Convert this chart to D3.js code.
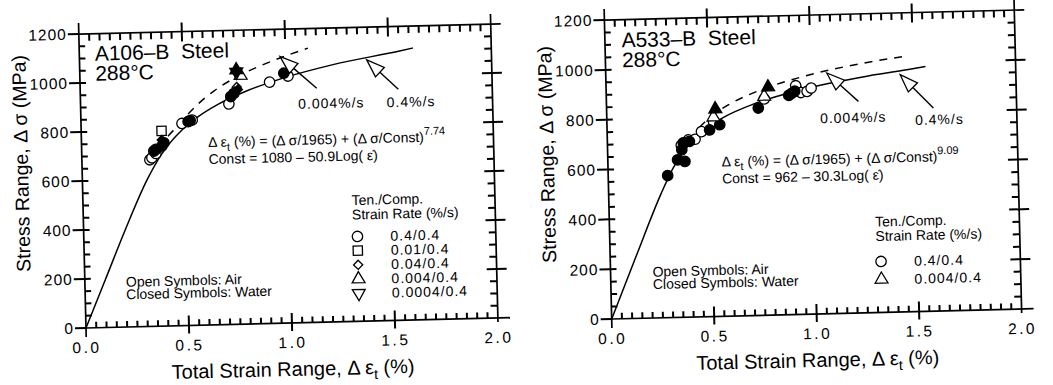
<!DOCTYPE html>
<html>
<head>
<meta charset="utf-8">
<script src="https://cdn.jsdelivr.net/npm/d3@7"></script>
<style>
  body { margin: 0; background: #fff; }
  svg { display: block; font-family: "Liberation Sans", Arial, sans-serif; }
</style>
</head>
<body>
<div id="chart"></div>
<script>
// ---- data (strain %, stress MPa) ----
var xTicks = [0, 0.5, 1.0, 1.5, 2.0];
var yTicks = [0, 200, 400, 600, 800, 1000, 1200];

// A106-B fitted curves
var a106Solid  = [[0,0],[0.102,200],[0.204,400],[0.315,600],[0.386,700],[0.433,750],[0.492,800],[0.568,850],[0.669,900],[0.804,950],[0.986,1000],[1.23,1050],[1.56,1100],[1.62,1110]];
var a106Dashed = [[0.37,730],[0.45,800],[0.56,895],[0.65,955],[0.75,1005],[0.885,1055],[1.0,1090],[1.11,1120]];
// A106-B test points
var a106CircleAir     = [[0.33,680],[0.34,688],[0.36,705],[0.49,825],[0.54,838],[0.72,900],[0.92,985],[1.01,1008]];
var a106CircleWater   = [[0.35,715],[0.36,722],[0.39,735],[0.40,748],[0.52,832],[0.53,836],[0.73,930],[0.745,942],[0.99,1020]];
var a106SquareAir     = [[0.39,797]];
var a106DiamondAir    = [[0.76,968]];
var a106DiamondWater  = [[0.39,760],[0.75,950],[0.765,958]];
var a106TriangleAir   = [[0.78,1015]];
var a106TriangleWater = [[0.76,1038]];
var a106InvTriWater   = [[0.76,1030]];
var a106Rates   = ['0.4/0.4', '0.01/0.4', '0.04/0.4', '0.004/0.4', '0.0004/0.4'];
var a106Symbols = ['circle', 'square', 'diamond', 'triangle', 'itriangle'];

// A533-B fitted curves
var a533Solid  = [[0,0],[0.127,250],[0.257,500],[0.318,600],[0.406,700],[0.475,750],[0.574,800],[0.722,850],[0.945,900],[1.28,950],[1.504,975],[1.56,982]];
var a533Dashed = [[0.45,760],[0.504,800],[0.60,850],[0.739,900],[0.943,950],[1.243,1000],[1.48,1027]];
// A533-B test points
var a533CircleAir     = [[0.36,690],[0.395,711],[0.428,713],[0.46,743],[0.52,782],[0.77,868],[0.93,902],[0.925,918],[0.95,890],[0.98,894],[1.0,907]];
var a533CircleWater   = [[0.29,570],[0.34,632],[0.376,625],[0.362,672],[0.37,700],[0.40,705],[0.50,749],[0.55,769],[0.74,832],[0.89,880],[0.905,888],[0.92,896]];
var a533TriangleAir   = [[0.52,800],[0.77,878]];
var a533TriangleWater = [[0.53,832],[0.79,915]];
var a533Rates   = ['0.4/0.4', '0.004/0.4'];
var a533Symbols = ['circle', 'triangle'];

var width = 1053, height = 385;
var svg = d3.select('#chart').append('svg')
    .attr('width', width)
    .attr('height', height);
svg.append('rect').attr('width', width).attr('height', height).attr('fill', '#fff');

var symbolType = {
    circle: d3.symbolCircle,
    square: d3.symbolSquare,
    diamond: d3.symbolSquare,   // turned 45deg below
    triangle: d3.symbolTriangle,
    itriangle: d3.symbolTriangle
};
var symbolSize = { circle: 85, square: 85, diamond: 42, triangle: 72, itriangle: 72 };
var symbolTurn = { circle: 0, square: 0, diamond: 45, triangle: 0, itriangle: 180 };

function addSymbol(g, kind, px, py, filled) {
    g.append('path')
        .attr('d', d3.symbol().type(symbolType[kind]).size(symbolSize[kind])())
        .attr('transform', 'translate(' + px + ',' + py + ') rotate(' + symbolTurn[kind] + ')')
        .attr('fill', filled ? '#000' : '#fff')
        .attr('stroke', '#000')
        .attr('stroke-width', 1.3);
}

function drawPanel(p) {
    // the scan is tilted a little, so each panel is too
    var g = svg.append('g')
        .attr('transform', 'translate(' + p.ox + ',' + p.oy + ') rotate(-1.4)');
    var x = d3.scaleLinear().domain([0, 2]).range([0, p.w]);
    var y = d3.scaleLinear().domain([0, 1200]).range([0, -p.h]);

    // frame
    var frame = [
        [0, 9, 0, -p.h - 11],
        [0, 0, p.w + 12, 0],
        [0, -p.h, p.w + 10, -p.h],
        [p.w, -p.h - 10, p.w, 4]
    ];
    frame.forEach(function(f) {
        g.append('line').attr('x1', f[0]).attr('y1', f[1]).attr('x2', f[2]).attr('y2', f[3])
            .attr('stroke', '#000').attr('stroke-width', 1.7);
    });

    var xMinor = d3.range(1, 40).map(function(i) { return i * 0.05; })
        .filter(function(v) { return Math.abs(v * 2 - Math.round(v * 2)) > 1e-6; });
    var yMinor = d3.range(1, 24).map(function(i) { return i * 50; })
        .filter(function(v) { return v % 200 != 0; });
    var xMajor = [0.5, 1.0, 1.5];
    var yMajor = [200, 400, 600, 800, 1000];

    // ticks along x at a fixed y (pixel), from a to b relative offsets
    function xTickSet(vals, py, a, b) {
        g.append('g').selectAll('line').data(vals).join('line')
            .attr('x1', function(d) { return x(d); }).attr('x2', function(d) { return x(d); })
            .attr('y1', py + a).attr('y2', py + b)
            .attr('stroke', '#000').attr('stroke-width', 2);
    }
    function yTickSet(vals, px, a, b) {
        g.append('g').selectAll('line').data(vals).join('line')
            .attr('y1', function(d) { return y(d); }).attr('y2', function(d) { return y(d); })
            .attr('x1', px + a).attr('x2', px + b)
            .attr('stroke', '#000').attr('stroke-width', 2);
    }
    xTickSet(xMinor, y(0), 0, -6);
    xTickSet(xMinor, y(1200), 0, 7);
    yTickSet(yMinor, x(0), 0, 6);
    yTickSet(yMinor, x(2), 0, -7);
    xTickSet(xMajor, y(0), 8, -10);
    xTickSet(xMajor, y(1200), -9, 10);
    yTickSet(yTicks, x(0), -11, 0);
    yTickSet(yMajor, x(0), 0, 6);
    yTickSet(yMajor, x(2), -10, 10);

    // tick labels
    var xl = g.append('g').attr('transform', 'translate(0,' + y(0) + ')')
        .call(d3.axisBottom(x).tickValues(xTicks).tickSize(0).tickPadding(14).tickFormat(d3.format('.1f')));
    xl.select('.domain').remove();
    xl.selectAll('text').attr('font-size', 15.5).attr('letter-spacing', 2.5).attr('fill', '#000');
    xl.attr('font-family', null);
    var yl = g.append('g').attr('transform', 'translate(' + x(0) + ',0)')
        .call(d3.axisLeft(y).tickValues(yTicks).tickSize(0).tickPadding(12).tickFormat(d3.format('d')));
    yl.select('.domain').remove();
    yl.selectAll('text').attr('font-size', 15.5).attr('letter-spacing', 1).attr('fill', '#000');
    yl.attr('font-family', null);

    // axis titles
    var xt = g.append('text').attr('x', p.w / 2).attr('y', 53).attr('text-anchor', 'middle').attr('font-size', 20);
    xt.append('tspan').text('Total Strain Range, Δ ε');
    xt.append('tspan').attr('dy', 5).attr('font-size', 14).text('t');
    xt.append('tspan').attr('dy', -5).text(' (%)');
    g.append('text')
        .attr('transform', 'translate(-54,-166) rotate(-90)')
        .attr('text-anchor', 'middle').attr('font-size', 19.5)
        .text('Stress Range, Δ σ (MPa)');

    // curves
    var line = d3.line()
        .x(function(d) { return x(d[0]); })
        .y(function(d) { return y(d[1]); })
        .curve(d3.curveMonotoneX);
    g.append('path').datum(p.solid).attr('d', line)
        .attr('fill', 'none').attr('stroke', '#000').attr('stroke-width', 1.5);
    g.append('path').datum(p.dashed).attr('d', line)
        .attr('fill', 'none').attr('stroke', '#000').attr('stroke-width', 1.5).attr('stroke-dasharray', '8,7');

    // points
    p.series.forEach(function(s) {
        s.data.forEach(function(d) {
            addSymbol(g, s.kind, x(d[0]), y(d[1]), s.filled);
        });
    });

    // arrows
    p.arrows.forEach(function(a) {
        var tx = x(a.tip[0]), ty = y(a.tip[1]);
        var qx = x(a.tail[0]), qy = y(a.tail[1]);
        var len = Math.hypot(qx - tx, qy - ty);
        var ux = (qx - tx) / len, uy = (qy - ty) / len;
        var nx = -uy, ny = ux;
        var L = 18, w = 6.5;
        var bx = tx + ux * L, by = ty + uy * L;
        g.append('line').attr('x1', bx).attr('y1', by).attr('x2', qx).attr('y2', qy)
            .attr('stroke', '#000').attr('stroke-width', 1.4);
        g.append('path')
            .attr('d', 'M' + tx + ',' + ty + 'L' + (bx + nx * w) + ',' + (by + ny * w) + 'L' + (bx - nx * w) + ',' + (by - ny * w) + 'Z')
            .attr('fill', '#fff').attr('stroke', '#000').attr('stroke-width', 1.3);
        g.append('text').attr('x', x(a.label[0])).attr('y', y(a.label[1]))
            .attr('font-size', 14).attr('letter-spacing', 1).text(a.text);
    });

    // title
    g.append('text').attr('x', x(p.titlePos[0])).attr('y', y(p.titlePos[1]))
        .attr('font-size', 21).text(p.title);
    g.append('text').attr('x', x(p.titlePos[0])).attr('y', y(p.titlePos[1]) + 20)
        .attr('font-size', 21).text('288°C');

    // equation
    var ex = x(p.eqPos[0]), ey = y(p.eqPos[1]);
    var eq = g.append('text').attr('x', ex).attr('y', ey).attr('font-size', 14);
    eq.append('tspan').text('Δ ε');
    eq.append('tspan').attr('dy', 4).attr('font-size', 11).text('t');
    eq.append('tspan').attr('dy', -4).text(' (%) = (Δ σ/1965) + (Δ σ/Const)');
    eq.append('tspan').attr('dy', -7).attr('font-size', 11).text(p.exponent);
    g.append('text').attr('x', ex).attr('y', ey + 17).attr('font-size', 14).text(p.constText);

    // open/closed note
    var nx0 = x(p.notePos[0]), ny0 = y(p.notePos[1]);
    g.append('text').attr('x', nx0).attr('y', ny0).attr('font-size', 14).text('Open Symbols: Air');
    g.append('text').attr('x', nx0).attr('y', ny0 + 12.5).attr('font-size', 14).text('Closed Symbols: Water');

    // legend
    var lx = x(p.legendPos[0]), ly = y(p.legendPos[1]);
    g.append('text').attr('x', lx).attr('y', ly).attr('font-size', 14).text('Ten./Comp.');
    g.append('text').attr('x', lx).attr('y', ly + 14.5).attr('font-size', 14).text('Strain Rate (%/s)');
    p.rates.forEach(function(r, i) {
        var ry = ly + p.legendFirst + i * p.legendStep;
        addSymbol(g, p.symbols[i], lx + 5, ry - 5, false);
        g.append('text').attr('x', lx + 38).attr('y', ry)
            .attr('font-size', 14).attr('letter-spacing', 1).text(r);
    });
}

drawPanel({
    ox: 86, oy: 328, w: 412, h: 294,
    title: 'A106–B\u00a0\u00a0Steel', titlePos: [0.075, 1090],
    solid: a106Solid, dashed: a106Dashed,
    series: [
        { kind: 'circle', filled: false, data: a106CircleAir },
        { kind: 'square', filled: false, data: a106SquareAir },
        { kind: 'diamond', filled: false, data: a106DiamondAir },
        { kind: 'circle', filled: true, data: a106CircleWater },
        { kind: 'diamond', filled: true, data: a106DiamondWater },
        { kind: 'triangle', filled: false, data: a106TriangleAir },
        { kind: 'itriangle', filled: true, data: a106InvTriWater },
        { kind: 'triangle', filled: true, data: a106TriangleWater }
    ],
    arrows: [
        { tip: [0.974, 1088], tail: [1.148, 955], label: [1.056, 873], text: '0.004%/s' },
        { tip: [1.394, 1066], tail: [1.544, 943], label: [1.486, 871], text: '0.4%/s' }
    ],
    eqPos: [0.615, 726], exponent: '7.74', constText: 'Const = 1080 – 50.9Log( ε̇)',
    notePos: [0.199, 164],
    legendPos: [1.304, 475], legendFirst: 36.5, legendStep: 14.2,
    rates: a106Rates, symbols: a106Symbols
});

drawPanel({
    ox: 611.7, oy: 319, w: 410, h: 299,
    title: 'A533–B\u00a0\u00a0Steel', titlePos: [0.081, 1089],
    solid: a533Solid, dashed: a533Dashed,
    series: [
        { kind: 'circle', filled: false, data: a533CircleAir },
        { kind: 'circle', filled: true, data: a533CircleWater },
        { kind: 'triangle', filled: false, data: a533TriangleAir },
        { kind: 'triangle', filled: true, data: a533TriangleWater }
    ],
    arrows: [
        { tip: [1.078, 966], tail: [1.229, 849], label: [1.04, 765], text: '0.004%/s' },
        { tip: [1.436, 952], tail: [1.594, 815], label: [1.503, 749], text: '0.4%/s' }
    ],
    eqPos: [0.555, 601], exponent: '9.09', constText: 'Const = 962 – 30.3Log( ε̇)',
    notePos: [0.205, 166],
    legendPos: [1.296, 345], legendFirst: 40, legendStep: 18,
    rates: a533Rates, symbols: a533Symbols
});
</script>
</body>
</html>
